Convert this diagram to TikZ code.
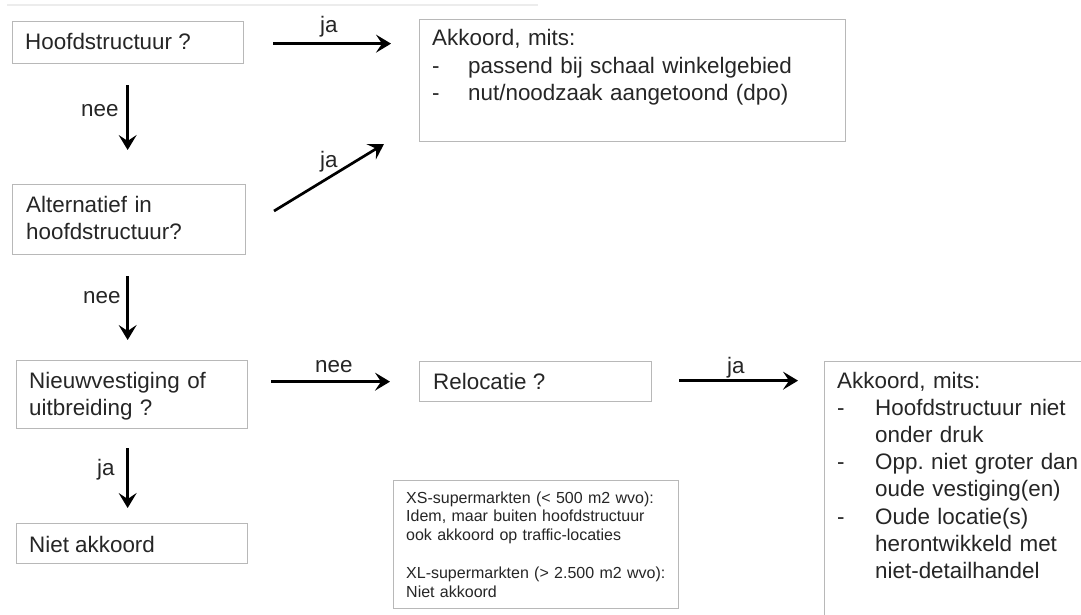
\documentclass[tikz,border=0pt]{standalone}
\usepackage{fontspec}
\setmainfont{Liberation Sans}
\usetikzlibrary{arrows.meta}
\frenchspacing
\definecolor{boxline}{HTML}{B8B8B8}
\definecolor{txtcol}{HTML}{262626}
\definecolor{faint}{HTML}{ECECEC}
\tikzset{
  box/.style={draw=boxline, line width=1.3pt, anchor=north west, inner sep=0pt, minimum width=#1},
  txt/.style={anchor=base west, inner sep=0pt, text=txtcol, font=\fontsize{22.4}{27.2}\selectfont},
  mtxt/.style={txt, text width=#1, align=left},
  smalltxt/.style={anchor=base west, inner sep=0pt, text=txtcol, text width=#1, align=left, font=\fontsize{16}{18.8}\selectfont},
  lbl/.style={anchor=base west, inner sep=0pt, text=txtcol, font=\fontsize{22.4}{27.2}\selectfont},
  arr/.style={line width=2.7pt, black, -{Stealth[length=15pt,width=18pt,inset=6pt]}}
}
\newcommand{\dashitem}[1]{\makebox[#1][l]{-}}
\begin{document}
\begin{tikzpicture}[x=1pt,y=-1pt]
\useasboundingbox (0,0) rectangle (1081,615);
\clip (0,0) rectangle (1081,615);
\fill[white] (0,0) rectangle (1081,615);
% faint top rule
\draw[faint, line width=2pt] (7,5) -- (538,5);
% boxes
\node[box=231pt, minimum height=42pt] (b1) at (12,21) {};
\node[box=426pt, minimum height=122pt] (a1) at (419,19) {};
\node[box=233pt, minimum height=70pt] (b2) at (12,184) {};
\node[box=231pt, minimum height=68pt] (b3) at (16,360) {};
\node[box=231pt, minimum height=40pt] (b4) at (16,523) {};
\node[box=232pt, minimum height=40pt] (rel) at (419,361) {};
\node[box=285pt, minimum height=128pt] (xs) at (393,480) {};
\node[box=300pt, minimum height=300pt] (r2) at (824,361) {};
% texts
\node[txt] (t1) at (25,50) {Hoofdstructuur ?};
\node[mtxt=405pt] (ta1) at (432,46) {Akkoord, mits:\\
\dashitem{36pt}passend bij schaal winkelgebied\\
\dashitem{36pt}nut/noodzaak aangetoond (dpo)};
\node[mtxt=225pt] (t2) at (26,212) {Alternatief in\\hoofdstructuur?};
\node[mtxt=225pt] (t3) at (29,388) {Nieuwvestiging of\\uitbreiding ?};
\node[txt] (t4) at (29,552) {Niet akkoord};
\node[txt] (trel) at (433,389) {Relocatie ?};
\node[smalltxt=275pt] (txs) at (406,503) {XS-supermarkten (< 500 m2 wvo):\\
Idem, maar buiten hoofdstructuur\\
ook akkoord op traffic-locaties\\[18.8pt]
XL-supermarkten (> 2.500 m2 wvo):\\
Niet akkoord};
\node[mtxt=260pt] (tr2) at (837,388) {Akkoord, mits:\\
\dashitem{38pt}Hoofdstructuur niet\\
\hspace*{38pt}onder druk\\
\dashitem{38pt}Opp. niet groter dan\\
\hspace*{38pt}oude vestiging(en)\\
\dashitem{38pt}Oude locatie(s)\\
\hspace*{38pt}herontwikkeld met\\
\hspace*{38pt}niet-detailhandel};
% arrows
\draw[arr, shorten <=29pt, shorten >=28pt] ([yshift=-1pt]b1.east) -- ([yshift=-1pt]b1.east -| a1.west);
\draw[arr, shorten <=21pt, shorten >=34pt] ([xshift=-0.5pt]b1.south) -- ([xshift=-0.5pt]b1.south |- b2.north);
\coordinate (d1) at (274,211);
\coordinate (d2) at (384,144);
\draw[arr] (d1) -- (d2);
\draw[arr, shorten <=21pt, shorten >=20pt] ([xshift=-1.5pt]b2.south) -- ([xshift=-1.5pt]b2.south |- b3.north);
\draw[arr, shorten <=23pt, shorten >=29pt] (rel.west -| b3.east) -- (rel.west);
\draw[arr, shorten <=27pt, shorten >=26pt] ([yshift=1pt]rel.east) -- ([yshift=1pt]rel.east -| r2.west);
\draw[arr, shorten <=19pt, shorten >=15pt] ([xshift=-4.5pt]b3.south) -- ([xshift=-4.5pt]b3.south |- b4.north);
% labels
\node[lbl] (l1) at (320,33) {ja};
\node[lbl] (l2) at (81,117) {nee};
\node[lbl] (l3) at (320,167) {ja};
\node[lbl] (l4) at (83,303) {nee};
\node[lbl] (l5) at (315,372) {nee};
\node[lbl] (l6) at (97,475) {ja};
\node[lbl] (l7) at (727,373) {ja};
\end{tikzpicture}
\end{document}
